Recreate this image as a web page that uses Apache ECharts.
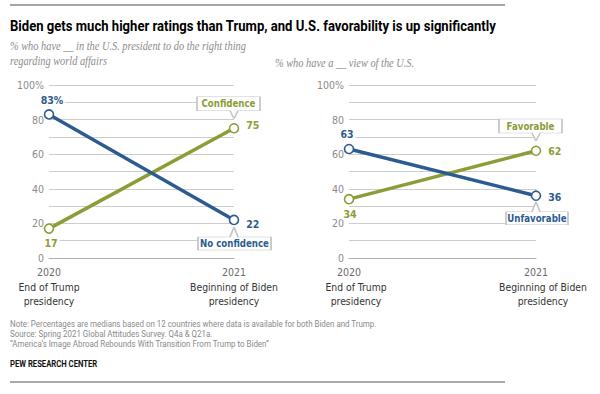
<!DOCTYPE html>
<html><head><meta charset="utf-8">
<script src="https://cdn.jsdelivr.net/npm/echarts@6/dist/echarts.min.js"></script>
<style>html,body{margin:0;padding:0;background:#fff}#c{width:600px;height:394px}</style>
</head><body><div id="c"></div>
<script>
const years = ['2020', '2021'];
const periodLabels = ['End of Trump\npresidency', 'Beginning of Biden\npresidency'];
const noConfidence = [83, 22];
const confidence = [17, 75];
const unfavorable = [63, 36];
const favorable = [34, 62];
const leftNames = ['No confidence', 'Confidence'];
const rightNames = ['Unfavorable', 'Favorable'];

const BLUE = '#2c5c8f', GREEN = '#8c9c36';
const SANS = "'DejaVu Sans Condensed','Liberation Sans',sans-serif";
const ROBOTO = "Roboto,'Liberation Sans',sans-serif";
const SERIF = "'Liberation Serif','DejaVu Serif',serif";

function upPath(w, ax) { return `path://M0,0 H${w} V14 H${ax+4} L${ax},22 L${ax-4},14 H0 Z`; }
function downPath(w, ax) { return `path://M0,10 H${ax-4} L${ax},0 L${ax+4},10 H${w} V23 H0 Z`; }

function callout(name, color, value, up, w, ax, off) {
  return {
    symbol: up ? upPath(w, ax) : downPath(w, ax),
    symbolSize: [w, up ? 22 : 23],
    symbolOffset: off,
    coord: [years[1], value],
    itemStyle: { color: '#fff', borderColor: '#c4c4c4', borderWidth: 1 },
    label: { show: true, formatter: name, position: 'inside', offset: [0, up ? -4 : 5],
      color: color, fontWeight: 'bold', fontSize: 9.6, fontFamily: SANS }
  };
}

function xAxis(gridIndex, shiftDesc) {
  return {
    gridIndex, type: 'category', data: years, boundaryGap: false,
    axisLine: { show: true, lineStyle: { color: '#b0b0b0', width: 1 } },
    axisTick: { show: false },
    axisLabel: {
      margin: 6, interval: 0,
      formatter: (v, i) => `{y|${v}}\n` + periodLabels[i].split('\n').map(s => `{d|${s}}`).join('\n'),
      rich: {
        y: { color: '#6b6b6b', fontSize: 10.5, lineHeight: 16, fontFamily: SANS },
        d: { color: '#333', fontSize: 10.3, lineHeight: 14, fontFamily: SANS, padding: [0, 0, 0, shiftDesc] }
      }
    }
  };
}
function yAxis(gridIndex) {
  return {
    gridIndex, type: 'value', min: 0, max: 100, interval: 10,
    axisLine: { show: false }, axisTick: { show: false },
    splitLine: { lineStyle: { color: '#cdcdcd', width: 1 } },
    axisLabel: { margin: 5, color: '#8a8a8a', fontSize: 10.5, fontFamily: SANS,
      formatter: v => v % 20 === 0 ? (v === 100 ? '100%' : String(v)) : '' }
  };
}

function lineSeries(name, data, color, idx, labels, mark) {
  return {
    name, type: 'line', xAxisIndex: idx, yAxisIndex: idx, data: data.map((v, i) => ({
      value: v, label: labels[i] })),
    lineStyle: { color, width: 3.5 }, itemStyle: { color: '#fff', borderColor: color, borderWidth: 1.6 },
    symbol: 'circle', symbolSize: 9, showSymbol: true,
    label: { show: true, color, fontWeight: 'bold', fontSize: 10.5, fontFamily: SANS,
      backgroundColor: '#fff', padding: [0, 2] },
    markPoint: { data: [mark], animation: false },
    z: color === BLUE ? 3 : 2
  };
}

function txt(x, y, text, font, fill, sx) {
  return { type: 'text', x, y, scaleX: sx, style: { text, fill, font, verticalAlign: 'middle' } };
}

const chart = echarts.init(document.getElementById('c'), null, { renderer: 'svg' });
chart.setOption({
  animation: false,
  grid: [
    { left: 49, top: 85, width: 185, height: 173 },
    { left: 349, top: 85, width: 187, height: 173 }
  ],
  xAxis: [xAxis(0, 0), xAxis(1, 14)],
  yAxis: [yAxis(0), yAxis(1)],
  series: [
    lineSeries(leftNames[0], noConfidence, BLUE, 0,
      [{ position: 'top', distance: 4, offset: [3, 0], formatter: p => p.value + '%' },
       { position: 'right', distance: 5, offset: [0, 4] }],
      callout(leftNames[0], BLUE, noConfidence[1], false, 73, 36, [0.5, 18.5])),
    lineSeries(leftNames[1], confidence, GREEN, 0,
      [{ position: 'bottom', distance: 4, offset: [2, 0] },
       { position: 'right', distance: 5, offset: [0, -3] }],
      callout(leftNames[1], GREEN, confidence[1], true, 63, 37, [-5.5, -20.5])),
    lineSeries(rightNames[0], unfavorable, BLUE, 1,
      [{ position: 'top', distance: 4, offset: [-2, 0] },
       { position: 'right', distance: 5, offset: [0, 1] }],
      callout(rightNames[0], BLUE, unfavorable[1], false, 62, 30, [1, 17.5])),
    lineSeries(rightNames[1], favorable, GREEN, 1,
      [{ position: 'bottom', distance: 4, offset: [1, 0] },
       { position: 'right', distance: 5, offset: [0, 0] }],
      callout(rightNames[1], GREEN, favorable[1], true, 63, 37, [-5.5, -20.7]))
  ],
  graphic: [
    { type: 'line', shape: { x1: 10, y1: 5, x2: 505, y2: 5 }, style: { stroke: '#a6a6a6', lineWidth: 2 } },
    { type: 'line', shape: { x1: 10, y1: 382, x2: 505, y2: 382 }, style: { stroke: '#555', lineWidth: 1 } },
    txt(10, 25.5, 'Biden gets much higher ratings than Trump, and U.S. favorability is up significantly', `bold 14px ${ROBOTO}`, '#000', 0.935),
    txt(10, 46, '% who have __ in the U.S. president to do the right thing', `italic 11.5px ${SERIF}`, '#8c8c8c', 0.9),
    txt(10, 61, 'regarding world affairs', `italic 11.5px ${SERIF}`, '#8c8c8c', 0.9),
    txt(275, 63, '% who have a __ view of the U.S.', `italic 11.5px ${SERIF}`, '#8c8c8c', 0.9),
    txt(10, 323.5, 'Note: Percentages are medians based on 12 countries where data is available for both Biden and Trump.', `9.5px ${ROBOTO}`, '#8a8a8a', 0.835),
    txt(10, 333.5, 'Source: Spring 2021 Global Attitudes Survey. Q4a & Q21a.', `9.5px ${ROBOTO}`, '#8a8a8a', 0.835),
    txt(10, 343.5, '\u201cAmerica\u2019s Image Abroad Rebounds With Transition From Trump to Biden\u201d', `9.5px ${ROBOTO}`, '#8a8a8a', 0.835),
    txt(10, 363.5, 'PEW RESEARCH CENTER', `bold 9.5px ${ROBOTO}`, '#111', 0.81)
  ]
});
</script></body></html>
